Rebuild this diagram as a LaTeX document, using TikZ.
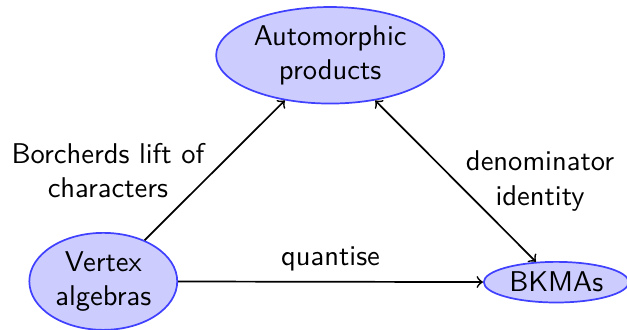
\documentclass[tikz,border=0pt]{standalone}
\usepackage{tikz}
\usetikzlibrary{shapes,shapes.geometric,arrows,positioning}

\begin{document}
\begin{tikzpicture}[>=to, auto, font=\sffamily, semithick,
    blob/.style={ellipse, draw=blue!75, fill=blue!20, align=center, inner sep=1.5pt}]
    \useasboundingbox (0,0) rectangle (7.71,4.05);
    \node [blob] (auto)   at (4.06,3.37) {Automorphic\\products};
    \node [blob] (vertex) at (1.27,0.59) {Vertex\\algebras};
    \node [blob] (bkma)   at (6.84,0.58) {BKMAs};
    \path[->] (vertex) edge node [left, align=center] {Borcherds lift of\\characters} (auto)
              (vertex) edge node {quantise} (bkma);
    \path[<->] (bkma) edge node [right, align=center] {denominator\\identity} (auto);
\end{tikzpicture}
\end{document}
